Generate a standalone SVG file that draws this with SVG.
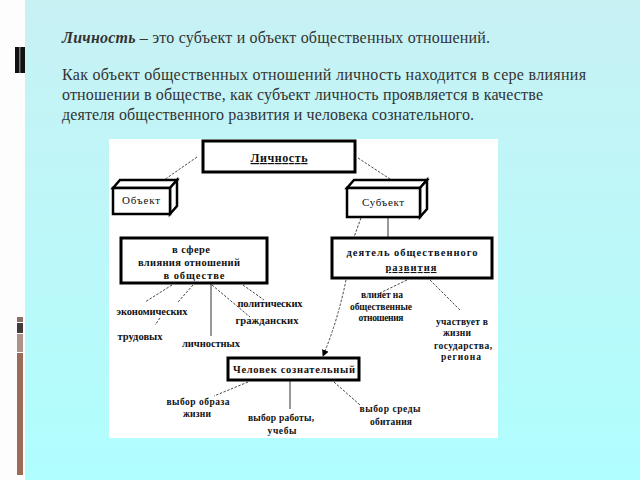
<svg xmlns="http://www.w3.org/2000/svg" width="640" height="480" viewBox="0 0 640 480">
  <defs>
    <linearGradient id="bg" x1="0" y1="0" x2="0" y2="1">
      <stop offset="0" stop-color="#c8f1f4"/>
      <stop offset="1" stop-color="#b0fefe"/>
    </linearGradient>
    <marker id="arr" viewBox="0 0 8 8" refX="7" refY="4" markerWidth="7" markerHeight="7" orient="auto" markerUnits="userSpaceOnUse">
      <path d="M0,0 L8,4 L0,8 Z" fill="#000"/>
    </marker>
    <style>
      .head { font-family: "Liberation Serif", "Times New Roman", serif; font-size: 16px; fill: #333; }
      .lbl { font-family: "Liberation Serif", "Times New Roman", serif; font-size: 10.5px; font-weight: bold; fill: #111; text-anchor: middle; }
      .sm { font-size: 9.5px; }
      .reg { font-family: "Liberation Serif", "Times New Roman", serif; font-size: 11px; font-weight: normal; fill: #111; text-anchor: middle; }
      .boxt { font-family: "Liberation Serif", "Times New Roman", serif; font-size: 12px; font-weight: bold; fill: #111; text-anchor: middle; }
      .box { fill: #fff; stroke: #000; stroke-width: 3; }
      .cube { fill: #fff; stroke: #000; stroke-width: 2.5; stroke-linejoin: miter; }
      .dash { fill: none; stroke: #333; stroke-width: 0.9; stroke-dasharray: 2.5 1.5; }
      .solid { fill: none; stroke: #333; stroke-width: 1; }
    </style>
  </defs>

  <!-- background -->
  <rect x="0" y="0" width="640" height="480" fill="url(#bg)"/>
  <rect x="0" y="0" width="25" height="480" fill="#fdfdfd"/>
  <rect x="15" y="47" width="10" height="26" fill="#111"/>
  <rect x="19" y="47" width="1.5" height="26" fill="#777"/>
  <rect x="17" y="317" width="6" height="5" fill="#8e6f66"/>
  <rect x="17" y="323" width="6" height="10" fill="#453a3a"/>
  <rect x="17" y="334" width="6" height="18" fill="#ab938a"/>
  <rect x="17" y="353" width="6" height="122" fill="#9c6b58"/>

  <!-- heading text -->
  <text class="head" x="62" y="43" textLength="428" lengthAdjust="spacing"><tspan font-weight="bold" font-style="italic">Личность</tspan> – это субъект и объект общественных отношений.</text>
  <text class="head" x="62" y="80" textLength="524" lengthAdjust="spacing">Как объект общественных отношений личность находится в сере влияния</text>
  <text class="head" x="62" y="100" textLength="481" lengthAdjust="spacing">отношении в обществе, как субъект личность проявляется в качестве</text>
  <text class="head" x="62" y="120" textLength="412" lengthAdjust="spacing">деятеля общественного развития и человека сознательного.</text>

  <!-- white panel -->
  <rect x="109" y="139" width="389" height="299" fill="#fff"/>

  <!-- connectors -->
  <g id="connectors">
    <line class="dash" x1="197" y1="157" x2="164" y2="180"/>
    <line class="dash" x1="358" y1="158" x2="390" y2="179"/>
    <line class="dash" x1="361" y1="218" x2="354" y2="237"/>
    <line class="solid" x1="388" y1="217" x2="388" y2="237"/>
    <line class="dash" x1="172" y1="285" x2="145" y2="302"/>
    <line class="dash" x1="193" y1="285" x2="178" y2="302"/>
    <line class="solid" x1="211" y1="284" x2="211" y2="336"/>
    <line class="dash" x1="212" y1="285" x2="250" y2="317"/>
    <line class="dash" x1="243" y1="285" x2="264" y2="300"/>
    <line class="dash" x1="160" y1="318" x2="155" y2="325"/>
    <line class="dash" x1="407" y1="280" x2="380" y2="293"/>
    <line class="dash" x1="430" y1="280" x2="460" y2="310"/>
    <path class="dash" d="M346,280 Q338,320 323,356" marker-end="url(#arr)"/>
    <line class="dash" x1="248" y1="382" x2="214" y2="396"/>
    <line class="solid" x1="290" y1="381" x2="290" y2="409"/>
    <line class="dash" x1="334" y1="382" x2="360" y2="405"/>
  </g>

  <!-- nodes -->
  <g id="lichnost">
    <rect class="box" x="203" y="141" width="152" height="31"/>
    <text class="boxt" x="279" y="162" textLength="57" lengthAdjust="spacing" text-decoration="underline">Личность</text>
  </g>

  <g id="obekt">
    <path class="cube" d="M113,188 L120,180 L177,180 L170,188 Z"/>
    <path class="cube" d="M170,188 L177,180 L177,206 L170,214 Z"/>
    <rect class="cube" x="113" y="188" width="57" height="26"/>
    <text class="reg" x="141" y="204" textLength="38" lengthAdjust="spacing">Объект</text>
  </g>

  <g id="subekt">
    <path class="cube" d="M347,188 L354,180 L427,180 L420,188 Z"/>
    <path class="cube" d="M420,188 L427,180 L427,209 L420,217 Z"/>
    <rect class="cube" x="347" y="188" width="73" height="29"/>
    <text class="reg" x="383" y="206" textLength="42" lengthAdjust="spacing">Субъект</text>
  </g>

  <g id="sfera">
    <rect class="box" x="121" y="238" width="146" height="45"/>
    <text class="lbl" x="191" y="253" textLength="38" lengthAdjust="spacing">в сфере</text>
    <text class="lbl" x="189" y="266" textLength="102" lengthAdjust="spacing">влияния отношений</text>
    <text class="lbl" x="194" y="279" textLength="61" lengthAdjust="spacing">в обществе</text>
  </g>

  <g id="deyatel">
    <rect class="box" x="332" y="238" width="160" height="40"/>
    <text class="lbl" x="412" y="256" textLength="131" lengthAdjust="spacing">деятель общественного</text>
    <text class="lbl" x="411" y="271" textLength="51" lengthAdjust="spacing" text-decoration="underline">развития</text>
  </g>

  <g id="chelovek">
    <rect class="box" x="228" y="358" width="131" height="22"/>
    <text class="lbl" x="294" y="373" textLength="122" lengthAdjust="spacing">Человек сознательный</text>
  </g>

  <!-- leaf labels -->
  <g id="labels-left">
    <text class="lbl" x="152" y="315" textLength="71" lengthAdjust="spacing">экономических</text>
    <text class="lbl" x="270" y="307" textLength="65" lengthAdjust="spacing">политических</text>
    <text class="lbl" x="267" y="324" textLength="63" lengthAdjust="spacing">гражданских</text>
    <text class="lbl" x="140" y="340" textLength="45" lengthAdjust="spacing">трудовых</text>
    <text class="lbl" x="211" y="347" textLength="58" lengthAdjust="spacing">личностных</text>
  </g>
  <g id="labels-right">
    <text class="lbl sm" x="382" y="298" textLength="42" lengthAdjust="spacing">влияет на</text>
    <text class="lbl sm" x="381" y="310" textLength="62" lengthAdjust="spacing">общественные</text>
    <text class="lbl sm" x="381" y="321" textLength="45" lengthAdjust="spacing">отношения</text>
    <text class="lbl sm" x="462" y="325" textLength="52" lengthAdjust="spacing">участвует в</text>
    <text class="lbl sm" x="457" y="336" textLength="28" lengthAdjust="spacing">жизни</text>
    <text class="lbl sm" x="463" y="349" textLength="58" lengthAdjust="spacing">государства,</text>
    <text class="lbl sm" x="461" y="360" textLength="40" lengthAdjust="spacing">региона</text>
  </g>
  <g id="labels-bottom">
    <text class="lbl sm" x="198" y="405" textLength="63" lengthAdjust="spacing">выбор образа</text>
    <text class="lbl sm" x="197" y="417" textLength="28" lengthAdjust="spacing">жизни</text>
    <text class="lbl sm" x="281" y="421" textLength="66" lengthAdjust="spacing">выбор работы,</text>
    <text class="lbl sm" x="282" y="434" textLength="29" lengthAdjust="spacing">учебы</text>
    <text class="lbl sm" x="390" y="412" textLength="61" lengthAdjust="spacing">выбор среды</text>
    <text class="lbl sm" x="391" y="425" textLength="42" lengthAdjust="spacing">обитания</text>
  </g>
</svg>
